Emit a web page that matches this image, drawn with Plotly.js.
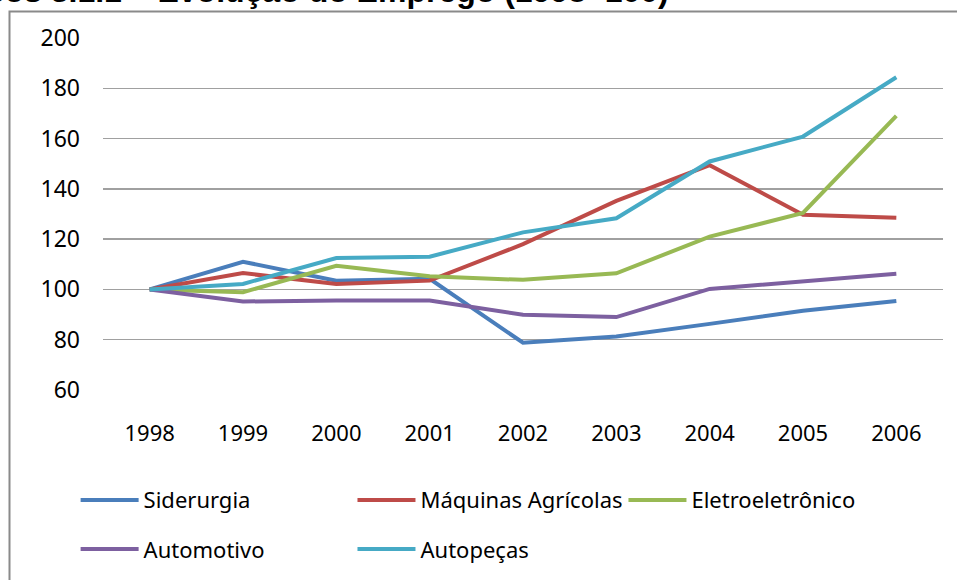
<!DOCTYPE html>
<html>
<head>
<meta charset="utf-8">
<script src="https://cdn.plot.ly/plotly-3.0.1.min.js"></script>
<style>
html,body{margin:0;padding:0;background:#fff;}
#chart{width:957px;height:580px;}
</style>
</head>
<body>
<div id="chart"></div>
<script>
var years = ['1998','1999','2000','2001','2002','2003','2004','2005','2006'];
var siderurgia = [100, 111, 103.5, 104.2, 78.8, 81.3, 86.3, 91.5, 95.4];
var maquinasAgricolas = [100, 106.5, 102.2, 103.5, 118, 135.2, 149.4, 129.7, 128.5];
var eletroeletronico = [100, 98.9, 109.4, 105.2, 103.8, 106.4, 121, 130.4, 169];
var automotivo = [100, 95.2, 95.6, 95.6, 89.9, 89, 100.2, 103.2, 106.2];
var autopecas = [100, 102.2, 112.5, 113, 122.7, 128.3, 150.9, 160.8, 184.4];
var seriesNames = ['Siderurgia','Máquinas Agrícolas','Eletroeletrônico','Automotivo','Autopeças'];
var yTicks = [60, 80, 100, 120, 140, 160, 180, 200];
var titleText = 'Gráficos 3.1.1 – Evolução do Emprego (1998=100)';

var colors = ['#4A7EBB','#BE4B48','#98B954','#7D60A0','#46AAC5'];
var values = [siderurgia, maquinasAgricolas, eletroeletronico, automotivo, autopecas];
var legendIds = ['legend','legend2','legend3','legend4','legend5'];

var traces = values.map(function(v, i){
  return {
    type:'scatter', mode:'lines', x: years, y: v, name: seriesNames[i],
    line:{color: colors[i], width:4},
    legend: legendIds[i],
    hoverinfo:'skip'
  };
});

var legFont = {family:'Noto Sans, Open Sans, sans-serif', size:22, color:'#000'};
function leg(x, y){
  return {x:x, y:y, xanchor:'left', yanchor:'middle', orientation:'h',
    font:legFont, itemwidth:58, bgcolor:'rgba(0,0,0,0)', borderwidth:0};
}

var layout = {
  width:957, height:580,
  margin:{l:103, r:14, t:38, b:189, pad:0},
  paper_bgcolor:'#fff', plot_bgcolor:'#fff',
  showlegend:true,
  xaxis:{
    type:'category', range:[-0.5, 8.5], showgrid:false, zeroline:false,
    showline:false, ticks:'', ticklabelstandoff:28,
    tickfont:{family:'Noto Sans, Open Sans, sans-serif', size:22, color:'#000'}
  },
  yaxis:{
    range:[60, 200], tickvals:yTicks, ticktext:yTicks.map(String),
    showgrid:true, gridcolor:'#a0a0a0', gridwidth:1.3, zeroline:false,
    showline:false, ticks:'', ticklabelstandoff:22,
    tickfont:{family:'Noto Sans, Open Sans, sans-serif', size:23, color:'#000'}
  },
  legend: leg(-0.0326, -0.309),
  legend2: leg(0.297, -0.309),
  legend3: leg(0.6196, -0.309),
  legend4: leg(-0.0326, -0.448),
  legend5: leg(0.297, -0.448),
  shapes:[{
    type:'rect', xref:'paper', yref:'paper',
    x0:(9.5-103)/840, x1:1.5, y0:-1, y1:(391-11.5)/353,
    line:{color:'#8a8a8a', width:2}, fillcolor:'rgba(0,0,0,0)', layer:'below'
  }],
  annotations:[{
    xref:'paper', yref:'paper', x:(671-103)/840, y:(391-11)/353,
    xanchor:'right', yanchor:'bottom', showarrow:false,
    text:'<b>'+titleText+'</b>',
    font:{family:'Liberation Sans, Arial, sans-serif', size:32, color:'#000'}
  }]
};

Plotly.newPlot('chart', traces, layout, {staticPlot:true, displayModeBar:false});
</script>
</body>
</html>
